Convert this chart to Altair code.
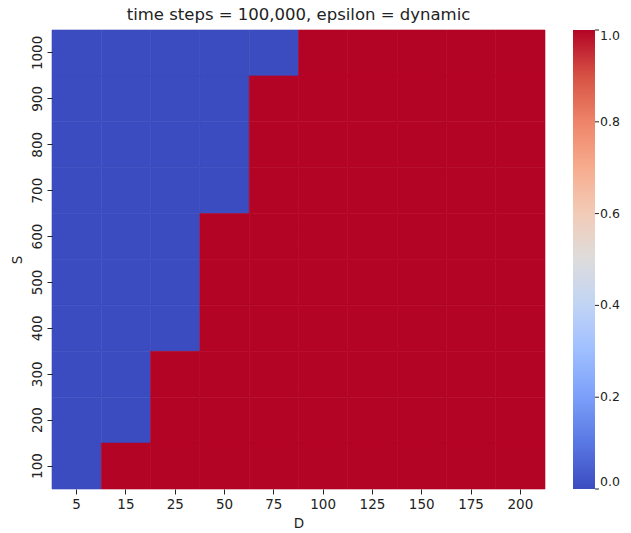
import altair as alt
import pandas as pd

D_values = [5, 15, 25, 50, 75, 100, 125, 150, 175, 200]
S_values = [1000, 900, 800, 700, 600, 500, 400, 300, 200, 100]
# one row per S (top to bottom), value per D column
row_1000 = [0, 0, 0, 0, 0, 1, 1, 1, 1, 1]
row_900 = [0, 0, 0, 0, 1, 1, 1, 1, 1, 1]
row_800 = [0, 0, 0, 0, 1, 1, 1, 1, 1, 1]
row_700 = [0, 0, 0, 0, 1, 1, 1, 1, 1, 1]
row_600 = [0, 0, 0, 1, 1, 1, 1, 1, 1, 1]
row_500 = [0, 0, 0, 1, 1, 1, 1, 1, 1, 1]
row_400 = [0, 0, 0, 1, 1, 1, 1, 1, 1, 1]
row_300 = [0, 0, 1, 1, 1, 1, 1, 1, 1, 1]
row_200 = [0, 0, 1, 1, 1, 1, 1, 1, 1, 1]
row_100 = [0, 1, 1, 1, 1, 1, 1, 1, 1, 1]
rows = [row_1000, row_900, row_800, row_700, row_600,
        row_500, row_400, row_300, row_200, row_100]
colorbar_ticks = [0.0, 0.2, 0.4, 0.6, 0.8, 1.0]

coolwarm = ["#3b4cc0", "#5977e3", "#7b9ff9", "#9ebeff", "#c0d4f5", "#dddcdc",
            "#f2cbb7", "#f7ac8e", "#ee8468", "#d65244", "#b40426"]

records = []
for s, row in zip(S_values, rows):
    for d, v in zip(D_values, row):
        records.append({"D": str(d), "S": str(s), "value": v})
df = pd.DataFrame(records)
ticks_df = pd.DataFrame({"t": colorbar_ticks})

FONT = "DejaVu Sans"
cscale = alt.Scale(domain=[0, 1], range=coolwarm, interpolate="rgb")

heat = alt.Chart(df).mark_rect(strokeWidth=0.6).encode(
    x=alt.X("D:O", sort=[str(d) for d in D_values], title="D",
            axis=alt.Axis(labelAngle=0, domain=False, tickSize=5, tickColor="#222",
                          labelPadding=3, titlePadding=6)),
    y=alt.Y("S:O", sort=[str(s) for s in S_values], title="S",
            axis=alt.Axis(labelAngle=270, labelAlign="center", labelBaseline="bottom",
                          domain=False, tickSize=5, tickColor="#222",
                          labelPadding=3, titlePadding=6)),
    color=alt.Color("value:Q", scale=cscale,
                    legend=alt.Legend(title=None, orient="none", legendX=521, legendY=0,
                                      direction="vertical", gradientLength=459,
                                      gradientThickness=22, gradientStrokeWidth=0,
                                      values=colorbar_ticks, format=".1f",
                                      labelOffset=5, labelFont=FONT, labelFontSize=12.5,
                                      labelColor="#222")),
    stroke=alt.condition(alt.datum.value == 1, alt.value(coolwarm[-1]), alt.value(coolwarm[0])),
)

cb_ticks = alt.Chart(ticks_df).mark_rule(color="#222", strokeWidth=1).encode(
    x=alt.value(543),
    x2=alt.value(547),
    y=alt.Y("t:Q", scale=alt.Scale(domain=[0, 1]), axis=None),
)

chart = alt.layer(heat, cb_ticks).resolve_scale(y="independent").properties(
    width=493, height=459,
    title=alt.Title("time steps = 100,000, epsilon = dynamic", font=FONT,
                    fontSize=16.5, fontWeight="normal", color="#222", offset=6),
    autosize=alt.AutoSizeParams(type="none"),
    padding={"left": 44, "top": 22, "right": 78, "bottom": 50},
).configure_axis(
    labelFont=FONT, labelFontSize=13.5, labelColor="#222",
    titleFont=FONT, titleFontSize=13.5, titleFontWeight="normal", titleColor="#222",
).configure_view(stroke=None)

chart.save("out.html", embed_options={"renderer": "svg", "actions": False})
